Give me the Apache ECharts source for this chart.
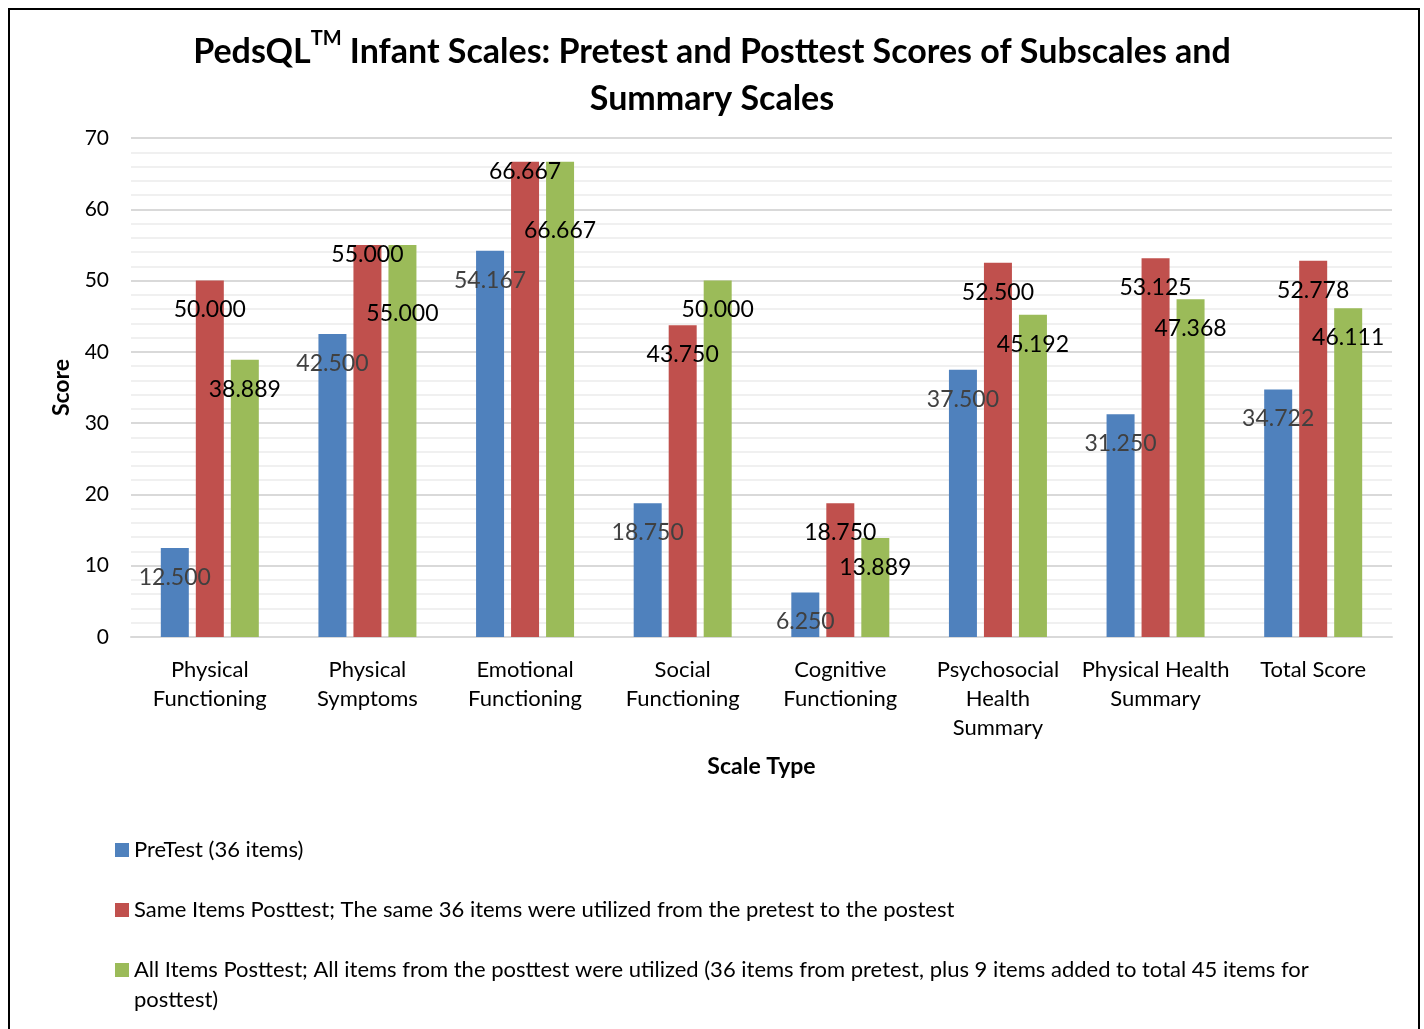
<!DOCTYPE html>
<html>
<head>
<meta charset="utf-8">
<script src="https://cdn.jsdelivr.net/npm/echarts@6/dist/echarts.min.js"></script>
<style>
html,body{margin:0;padding:0;background:#fff;}
#c{width:1424px;height:1029px;}
</style>
</head>
<body>
<div id="c"></div>
<script>
const categories = ["Physical\nFunctioning", "Physical\nSymptoms", "Emotional\nFunctioning", "Social\nFunctioning", "Cognitive\nFunctioning", "Psychosocial\nHealth\nSummary", "Physical Health\nSummary", "Total Score"];
const seriesNames = [
  "PreTest (36 items)",
  "Same Items Posttest; The same 36 items were utilized from the pretest to the postest",
  "All Items Posttest; All items from the posttest were utilized (36 items from pretest, plus 9 items added to total 45 items for posttest)"
];
const preTest = [12.5, 42.5, 54.167, 18.75, 6.25, 37.5, 31.25, 34.722];
const sameItems = [50.0, 55.0, 66.667, 43.75, 18.75, 52.5, 53.125, 52.778];
const allItems = [38.889, 55.0, 66.667, 50.0, 13.889, 45.192, 47.368, 46.111];
const yTicks = [0, 10, 20, 30, 40, 50, 60, 70];

const FONT = "Lato, 'Open Sans', sans-serif";
const colors = ["#4F81BD", "#C0504D", "#9BBB59"];
const labelColors = ["#404040", "#000000", "#000000"];
const allData = [preTest, sameItems, allItems];

// label offset tweaks (style only) to mimic the manually placed labels
function labelOffsetY(si, ci) {
  if (si === 1 && (ci === 1 || ci === 2)) return -7;
  if (si === 2 && (ci === 1 || ci === 2)) return 52;
  return 13;
}

const series = allData.map((arr, si) => ({
  name: seriesNames[si],
  type: 'bar',
  barWidth: 28,
  barGap: '25%',
  itemStyle: { color: colors[si] },
  data: arr.map((v, ci) => ({
    value: v,
    label: { offset: [0, labelOffsetY(si, ci)] }
  })),
  label: {
    show: true,
    position: 'insideTop',
    distance: 5,
    fontFamily: FONT,
    fontSize: 23,
    color: labelColors[si],
    formatter: p => Number(p.value).toFixed(3)
  }
}));

const legendFormat = name => name.indexOf("(36 items from pretest") >= 0
  ? "\n" + name.replace(" (36 items from pretest, plus 9 items added to total 45 items for posttest)", " (36 items from pretest, plus 9 items added to total 45 items for\nposttest)")
  : name;

const legends = seriesNames.map((n, i) => ({
  data: [n],
  left: 110,
  top: [830, 890, 920][i],
  orient: 'vertical',
  itemWidth: 14,
  itemHeight: 14,
  itemGap: 6,
  icon: 'rect',
  selectedMode: false,
  formatter: legendFormat,
  textStyle: {
    fontFamily: FONT,
    fontSize: 22,
    color: '#000',
    lineHeight: 30
  }
}));

const chart = echarts.init(document.getElementById('c'));
chart.setOption({
  animation: false,
  backgroundColor: '#fff',
  title: {
    text: "{a|PedsQL}{s|TM}{a| Infant Scales: Pretest and Posttest Scores of Subscales and}\n{a|Summary Scales}",
    left: 'center',
    top: 24,
    textStyle: {
      rich: {
        a: { fontFamily: FONT, fontWeight: 'bold', fontSize: 34, color: '#000', lineHeight: 47 },
        s: { fontFamily: FONT, fontWeight: 'bold', fontSize: 20, color: '#000', lineHeight: 30, verticalAlign: 'top' }
      }
    }
  },
  legend: legends,
  grid: { left: 131, right: 32, top: 138, bottom: 392 },
  xAxis: {
    type: 'category',
    data: categories,
    name: 'Scale Type',
    nameLocation: 'middle',
    nameGap: 118,
    nameTextStyle: { fontFamily: FONT, fontWeight: 'bold', fontSize: 23, color: '#000' },
    axisLine: { lineStyle: { color: '#d9d9d9', width: 2 } },
    axisTick: { show: false },
    axisLabel: { interval: 0, fontFamily: FONT, fontSize: 22, color: '#000', lineHeight: 29, margin: 18 }
  },
  yAxis: {
    type: 'value',
    min: yTicks[0],
    max: yTicks[yTicks.length - 1],
    interval: 10,
    name: 'Score',
    nameLocation: 'middle',
    nameGap: 58,
    nameTextStyle: { fontFamily: FONT, fontWeight: 'bold', fontSize: 23, color: '#000' },
    axisLine: { show: false },
    axisTick: { show: false },
    axisLabel: { fontFamily: FONT, fontSize: 21, color: '#000', margin: 22 },
    splitLine: { lineStyle: { color: '#d9d9d9', width: 2 } },
    minorTick: { show: false, splitNumber: 5 },
    minorSplitLine: { show: true, lineStyle: { color: '#f0f0f0', width: 2 } }
  },
  graphic: [{
    type: 'rect',
    shape: { x: 9, y: 9, width: 1410, height: 1040 },
    style: { fill: 'none', stroke: '#000', lineWidth: 2 },
    silent: true
  }],
  series: series
});
</script>
</body>
</html>
